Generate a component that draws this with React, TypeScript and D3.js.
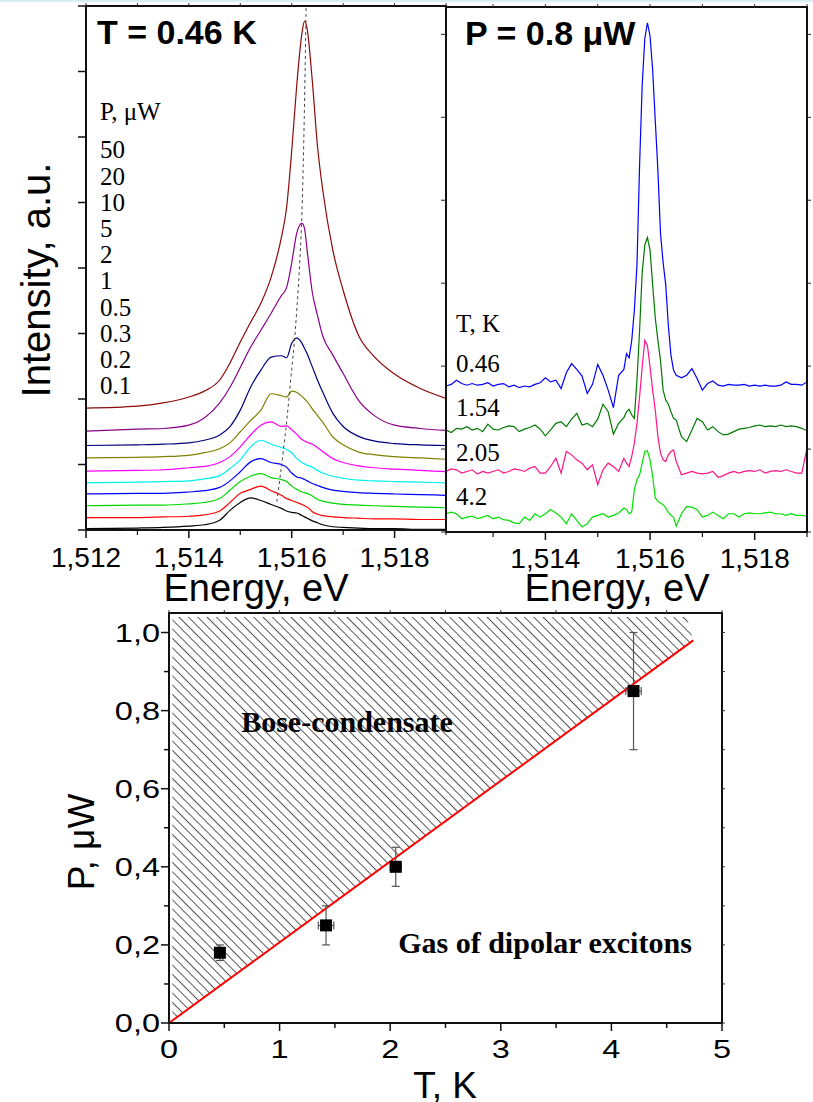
import * as d3 from "d3";

// ---------- top-left: spectra at T = 0.46 K, several pump powers ----------
const energyL = [
  1.512, 1.513, 1.5135, 1.514, 1.5143, 1.5146, 1.5148, 1.515, 1.5152, 1.5154,
  1.5156, 1.5158, 1.5159, 1.516, 1.5161, 1.5162, 1.51625, 1.5163, 1.5164,
  1.5165, 1.5166, 1.5168, 1.517, 1.5173, 1.5176, 1.518, 1.5185, 1.519,
];
const powerLabels = ["50", "20", "10", "5", "2", "1", "0.5", "0.3", "0.2", "0.1"];
const powerColors = [
  "#8b0a0a", "#8a008a", "#00007f", "#808000", "#ff00ff",
  "#00f0f0", "#0000ff", "#00d800", "#ff0000", "#000000",
];
const p50 = [1.86, 1.89, 1.94, 2.03, 2.12, 2.29, 2.55, 2.87, 3.17, 3.46, 3.86, 4.47, 4.92, 5.79, 6.81, 7.59, 7.77, 7.65, 6.86, 5.87, 5.21, 4.27, 3.66, 2.97, 2.65, 2.38, 2.16, 2.01];
const p20 = [1.51, 1.54, 1.55, 1.6, 1.71, 1.94, 2.18, 2.48, 2.79, 3.05, 3.31, 3.58, 3.7, 4.08, 4.54, 4.68, 4.6, 4.27, 3.63, 3.28, 2.97, 2.67, 2.39, 1.98, 1.75, 1.6, 1.55, 1.52];
const p10 = [1.29, 1.3, 1.31, 1.33, 1.37, 1.45, 1.58, 1.83, 2.18, 2.44, 2.64, 2.66, 2.63, 2.85, 2.93, 2.85, 2.77, 2.69, 2.49, 2.29, 2.11, 1.78, 1.58, 1.43, 1.36, 1.32, 1.3, 1.29];
const p5 = [1.1, 1.11, 1.12, 1.14, 1.18, 1.24, 1.33, 1.5, 1.67, 1.83, 2.08, 2.05, 2.03, 2.12, 2.1, 2.04, 2.0, 1.96, 1.85, 1.75, 1.65, 1.42, 1.3, 1.19, 1.15, 1.12, 1.1, 1.08];
const p2 = [0.9, 0.91, 0.92, 0.95, 0.97, 1.03, 1.12, 1.27, 1.45, 1.6, 1.65, 1.58, 1.59, 1.53, 1.46, 1.38, 1.36, 1.34, 1.31, 1.26, 1.2, 1.09, 1.03, 0.98, 0.95, 0.93, 0.91, 0.89];
const p1 = [0.72, 0.73, 0.74, 0.75, 0.78, 0.83, 0.94, 1.07, 1.27, 1.37, 1.31, 1.26, 1.23, 1.18, 1.09, 1.03, 1.01, 0.99, 0.96, 0.91, 0.87, 0.82, 0.79, 0.76, 0.75, 0.74, 0.73, 0.72];
const p05 = [0.55, 0.56, 0.56, 0.58, 0.6, 0.65, 0.75, 0.89, 1.04, 1.09, 1.03, 1.0, 0.96, 0.87, 0.81, 0.79, 0.77, 0.75, 0.71, 0.68, 0.65, 0.61, 0.59, 0.57, 0.56, 0.55, 0.54, 0.53];
const p03 = [0.37, 0.38, 0.38, 0.4, 0.42, 0.48, 0.61, 0.74, 0.82, 0.86, 0.8, 0.77, 0.74, 0.67, 0.62, 0.58, 0.57, 0.56, 0.52, 0.47, 0.44, 0.41, 0.39, 0.38, 0.37, 0.36, 0.35, 0.34];
const p02 = [0.19, 0.19, 0.2, 0.21, 0.23, 0.29, 0.42, 0.56, 0.62, 0.67, 0.6, 0.53, 0.48, 0.45, 0.42, 0.39, 0.37, 0.35, 0.28, 0.24, 0.22, 0.2, 0.19, 0.18, 0.17, 0.17, 0.16, 0.16];
const p01 = [0.02, 0.03, 0.04, 0.06, 0.08, 0.15, 0.3, 0.42, 0.49, 0.45, 0.39, 0.33, 0.29, 0.27, 0.26, 0.22, 0.2, 0.18, 0.14, 0.11, 0.08, 0.05, 0.04, 0.03, 0.02, 0.02, 0.01, 0.01];
const spectraL = [p50, p20, p10, p5, p2, p1, p05, p03, p02, p01];

// dashed guide through the condensate line
const guideE = [1.51571, 1.51579, 1.51589, 1.51598, 1.51607, 1.51619, 1.51628];
const guideI = [0.43, 0.91, 1.57, 2.29, 3.05, 4.65, 7.99];

// ---------- top-right: spectra at P = 0.8 uW, several temperatures ----------
const energyR = [
  1.5121, 1.5122, 1.5123, 1.5124, 1.5125, 1.5126, 1.5127, 1.5128, 1.5129, 1.513,
  1.5131, 1.5132, 1.5133, 1.5134, 1.5135, 1.5136, 1.5137, 1.5138, 1.5139, 1.514,
  1.5141, 1.5142, 1.5143, 1.5144, 1.5145, 1.5146, 1.5147, 1.5148, 1.5149, 1.515,
  1.5151, 1.5152, 1.5153, 1.5154, 1.5155,
  1.51555, 1.5156, 1.51565, 1.5157, 1.51575, 1.5158, 1.51585, 1.5159, 1.51595, 1.516,
  1.51605, 1.5161, 1.51615, 1.5162, 1.51625, 1.5163, 1.51635, 1.5164, 1.51645,
  1.5165, 1.5166, 1.5167, 1.5168, 1.5169, 1.517, 1.5171, 1.5172, 1.5173, 1.5174,
  1.5175, 1.5176, 1.5177, 1.5178, 1.5179, 1.518, 1.5181, 1.5182, 1.5183, 1.5184,
  1.5185, 1.5186, 1.5187, 1.5188, 1.5189, 1.519,
];
const tempLabels = ["0.46", "1.54", "2.05", "4.2"];
const tempColors = ["#0000ff", "#007800", "#ff1487", "#00e000"];
const t046 = [
  1.76, 1.78, 1.83, 1.79, 1.77, 1.79, 1.77, 1.78, 1.8, 1.76, 1.78, 1.79, 1.75, 1.77, 1.74, 1.76, 1.75, 1.78, 1.8, 1.86,
  1.81, 1.83, 1.73, 1.92, 2.03, 1.96, 1.88, 1.67, 1.78, 2.02, 1.89, 1.71, 1.5, 1.89, 1.96,
  2.15, 2.1, 2.31, 2.67, 3.22, 4.42, 5.39, 5.95, 6.14, 5.98, 5.57, 4.96, 4.36, 3.6, 3.25, 2.98, 2.49, 2.13, 1.95,
  1.89, 1.86, 1.89, 1.97, 1.85, 1.71, 1.79, 1.82, 1.77, 1.76, 1.78, 1.77, 1.77, 1.78, 1.76, 1.77, 1.76, 1.77, 1.76, 1.76,
  1.77, 1.81, 1.78, 1.78, 1.77, 1.81,
];
const t154 = [
  1.23, 1.2, 1.25, 1.24, 1.27, 1.23, 1.25, 1.21, 1.3, 1.24, 1.23, 1.26, 1.28, 1.27, 1.21, 1.24, 1.26, 1.29, 1.24, 1.16,
  1.23, 1.31, 1.33, 1.27, 1.36, 1.43, 1.29, 1.31, 1.27, 1.36, 1.54, 1.45, 1.18, 1.31, 1.38,
  1.45, 1.48, 1.41, 1.37, 1.83, 2.43, 3.13, 3.46, 3.55, 3.4, 2.98, 2.58, 2.31, 2.07, 1.71, 1.59, 1.54, 1.45, 1.37,
  1.35, 1.15, 1.09, 1.23, 1.37, 1.33, 1.23, 1.27, 1.21, 1.17, 1.18, 1.21, 1.24, 1.25, 1.26, 1.28, 1.29, 1.27, 1.28, 1.27,
  1.29, 1.27, 1.28, 1.27, 1.25, 1.22,
];
const t205 = [
  0.73, 0.76, 0.75, 0.71, 0.73, 0.75, 0.7, 0.73, 0.71, 0.73, 0.75, 0.71, 0.73, 0.76, 0.75, 0.73, 0.77, 0.79, 0.71, 0.71,
  0.79, 0.89, 0.71, 0.97, 0.93, 0.87, 0.83, 0.75, 0.81, 0.57, 0.75, 0.83, 0.79, 0.73, 0.89,
  0.83, 0.79, 0.91, 1.07, 1.31, 1.63, 1.99, 2.31, 2.25, 1.99, 1.71, 1.47, 1.15, 0.95, 0.87, 0.85, 0.93, 0.97, 0.99,
  0.85, 0.69, 0.71, 0.73, 0.71, 0.7, 0.71, 0.73, 0.66, 0.68, 0.71, 0.73, 0.71, 0.73, 0.74, 0.73, 0.75, 0.71, 0.73, 0.74,
  0.73, 0.75, 0.73, 0.71, 0.71, 1.01,
];
const t42 = [
  0.22, 0.24, 0.22, 0.16, 0.18, 0.19, 0.16, 0.18, 0.2, 0.16, 0.18, 0.15, 0.14, 0.11, 0.1, 0.18, 0.14, 0.22, 0.18, 0.22,
  0.27, 0.23, 0.18, 0.1, 0.22, 0.14, 0.06, 0.1, 0.18, 0.2, 0.22, 0.18, 0.2, 0.23, 0.29,
  0.27, 0.22, 0.24, 0.51, 0.63, 0.69, 0.83, 0.97, 0.98, 0.87, 0.67, 0.41, 0.37, 0.35, 0.33, 0.29, 0.24, 0.2, 0.18,
  0.07, 0.22, 0.31, 0.3, 0.27, 0.18, 0.2, 0.24, 0.2, 0.16, 0.22, 0.22, 0.18, 0.22, 0.23, 0.22, 0.22, 0.23, 0.24, 0.22,
  0.22, 0.2, 0.22, 0.2, 0.2, 0.19,
];
const spectraR = [t046, t154, t205, t42];

const tickEnergyL = [1.512, 1.514, 1.516, 1.518];
const tickEnergyR = [1.514, 1.516, 1.518];
const minorEnergy = [1.513, 1.515, 1.517, 1.519];

// ---------- bottom: phase diagram ----------
const tempK = [0.46, 1.42, 2.05, 4.2];
const powerUW = [0.18, 0.25, 0.4, 0.85];
const powerErr = [0.02, 0.05, 0.05, 0.15];
const tempErr = [0.03, 0.07, 0.05, 0.07];
const borderT = [0, 4.74];
const borderP = [0, 0.98];
const hatchT = [0.03, 4.68, 4.74, 0.03];
const hatchP = [1.04, 1.04, 0.98, 0.006];

const sans = "'Liberation Sans', Arial, sans-serif";
const serif = "'Liberation Serif', 'Times New Roman', serif";
const comma = d3.formatLocale({ decimal: ",", thousands: " ", grouping: [3], currency: ["", ""] });
const fmtE = comma.format(".3f");
const fmtP = comma.format(".1f");

export default function App() {
  const xL = d3.scaleLinear().domain([1.512, 1.519]).range([86, 446]);
  const yL = d3.scaleLinear().domain([0, 8]).range([530, 6]);
  const xR = d3.scaleLinear().domain([1.5121, 1.519]).range([446, 807]);
  const yR = d3.scaleLinear().domain([0, 6.33]).range([532, 7]);
  const xB = d3.scaleLinear().domain([0, 5]).range([169, 722]);
  const yB = d3.scaleLinear().domain([0, 1.05]).range([1023, 613]);

  const lineL = d3.line<number>().x((_, i) => xL(energyL[i])).y((d) => yL(d)).curve(d3.curveMonotoneX);
  const lineR = d3.line<number>().x((_, i) => xR(energyR[i])).y((d) => yR(d));
  const guide = d3.line<number>().x((_, i) => xL(guideE[i])).y((d) => yL(d)).curve(d3.curveCatmullRom);
  const hatch = d3.line<number>().x((_, i) => xB(hatchT[i])).y((d) => yB(d))(hatchP) + "Z";
  const border = d3.line<number>().x((_, i) => xB(borderT[i])).y((d) => yB(d))(borderP);

  const [l0, l1] = xL.range();
  const [r0, r1] = xR.range();
  const [b0, b1] = xB.range();

  return (
    <svg width={813} height={1102} style={{ position: "absolute", left: 0, top: 0, background: "#fff" }}>
      <defs>
        <clipPath id="clipL"><rect x={l0} y={yL(8)} width={l1 - l0} height={yL(0) - yL(8)} /></clipPath>
        <clipPath id="clipR"><rect x={r0} y={yR(6.33)} width={r1 - r0} height={yR(0) - yR(6.33)} /></clipPath>
        <pattern id="hatch" patternUnits="userSpaceOnUse" width={6.6} height={10} patternTransform="rotate(-45)">
          <line x1={0} y1={0} x2={0} y2={10} stroke="#000" strokeWidth={1.3} />
        </pattern>
      </defs>
      <rect x={0} y={0} width={813} height={2} fill="#d8eef2" />

      {/* ---------- top-left panel ---------- */}
      <g clipPath="url(#clipL)" fill="none">
        {spectraL.map((s, i) => (
          <path key={i} d={lineL(s) ?? ""} stroke={powerColors[i]} strokeWidth={1.2} />
        ))}
        <path d={guide(guideI) ?? ""} stroke="#444" strokeWidth={1} strokeDasharray="3,3" />
      </g>
      <rect x={l0} y={yL(8)} width={l1 - l0} height={yL(0) - yL(8)} fill="none" stroke="#111" strokeWidth={2} />
      {tickEnergyL.map((t) => (
        <g key={t}>
          <line x1={xL(t)} x2={xL(t)} y1={yL(0)} y2={yL(0) + 8} stroke="#111" strokeWidth={1.5} />
          <text x={xL(t)} y={567} textAnchor="middle" fontFamily={sans} fontSize={28}>{fmtE(t)}</text>
        </g>
      ))}
      {minorEnergy.map((t) => (
        <line key={t} x1={xL(t)} x2={xL(t)} y1={yL(0)} y2={yL(0) + 5} stroke="#111" strokeWidth={1.2} />
      ))}
      {[...tickEnergyL, ...minorEnergy].map((t) => (
        <line key={"t" + t} x1={xL(t)} x2={xL(t)} y1={yL(8)} y2={yL(8) - 3} stroke="#333" strokeWidth={1} />
      ))}
      {yL.ticks(8).map((v) => (
        <line key={v} x1={l0 - 8} x2={l0} y1={yL(v)} y2={yL(v)} stroke="#111" strokeWidth={1.5} />
      ))}
      <text x={97} y={44} fontFamily={sans} fontSize={34} fontWeight="bold">T = 0.46 K</text>
      <text x={100} y={120} fontFamily={serif} fontSize={25}>P, μW</text>
      {powerLabels.map((p, i) => (
        <text key={p} x={100} y={158.3 + 26.2 * i} fontFamily={serif} fontSize={25}>{p}</text>
      ))}
      <text transform="translate(50,280) rotate(-90)" textAnchor="middle" fontFamily={sans} fontSize={40}>
        Intensity, a.u.
      </text>
      <text x={256} y={601} textAnchor="middle" fontFamily={sans} fontSize={38}>Energy, eV</text>

      {/* ---------- top-right panel ---------- */}
      <g clipPath="url(#clipR)" fill="none">
        {spectraR.map((s, i) => (
          <path key={i} d={lineR(s) ?? ""} stroke={tempColors[i]} strokeWidth={1.2} />
        ))}
      </g>
      <rect x={r0} y={yR(6.33)} width={r1 - r0} height={yR(0) - yR(6.33)} fill="none" stroke="#111" strokeWidth={2} />
      {tickEnergyR.map((t) => (
        <g key={t}>
          <line x1={xR(t)} x2={xR(t)} y1={yR(0)} y2={yR(0) + 8} stroke="#111" strokeWidth={1.5} />
          <text x={xR(t)} y={568} textAnchor="middle" fontFamily={sans} fontSize={28}>{fmtE(t)}</text>
        </g>
      ))}
      {minorEnergy.map((t) => (
        <line key={t} x1={xR(t)} x2={xR(t)} y1={yR(0)} y2={yR(0) + 5} stroke="#111" strokeWidth={1.2} />
      ))}
      {[...tickEnergyR, ...minorEnergy].map((t) => (
        <line key={"t" + t} x1={xR(t)} x2={xR(t)} y1={yR(6.33)} y2={yR(6.33) - 3} stroke="#333" strokeWidth={1} />
      ))}
      {yR.ticks(6).map((v) => (
        <g key={v}>
          <line x1={r0 - 5} x2={r0} y1={yR(v)} y2={yR(v)} stroke="#222" strokeWidth={1} />
          <line x1={r1} x2={r1 + 4} y1={yR(v)} y2={yR(v)} stroke="#222" strokeWidth={1} />
        </g>
      ))}
      <text x={465} y={45} fontFamily={sans} fontSize={34} fontWeight="bold">P = 0.8 μW</text>
      <text x={456} y={331.7} fontFamily={serif} fontSize={25}>T, K</text>
      {tempLabels.map((t, i) => (
        <text key={t} x={456} y={371.7 + 44.4 * i} fontFamily={serif} fontSize={25}>{t}</text>
      ))}
      <text x={617} y={601} textAnchor="middle" fontFamily={sans} fontSize={38}>Energy, eV</text>

      {/* ---------- bottom panel ---------- */}
      <path d={hatch} fill="url(#hatch)" stroke="none" />
      <path d={border ?? ""} stroke="#ff0000" strokeWidth={2} fill="none" />
      {tempK.map((t, i) => (
        <g key={t} stroke="#555" strokeWidth={1.2}>
          <line x1={xB(t)} x2={xB(t)} y1={yB(powerUW[i] - powerErr[i])} y2={yB(powerUW[i] + powerErr[i])} />
          <line x1={xB(t) - 4} x2={xB(t) + 4} y1={yB(powerUW[i] - powerErr[i])} y2={yB(powerUW[i] - powerErr[i])} />
          <line x1={xB(t) - 4} x2={xB(t) + 4} y1={yB(powerUW[i] + powerErr[i])} y2={yB(powerUW[i] + powerErr[i])} />
          <line x1={xB(t - tempErr[i])} x2={xB(t + tempErr[i])} y1={yB(powerUW[i])} y2={yB(powerUW[i])} />
          <line x1={xB(t - tempErr[i])} x2={xB(t - tempErr[i])} y1={yB(powerUW[i]) - 4} y2={yB(powerUW[i]) + 4} />
          <line x1={xB(t + tempErr[i])} x2={xB(t + tempErr[i])} y1={yB(powerUW[i]) - 4} y2={yB(powerUW[i]) + 4} />
          <rect x={xB(t) - 6} y={yB(powerUW[i]) - 6} width={12} height={12} fill="#000" stroke="none" />
        </g>
      ))}
      <rect x={b0} y={yB(1.05)} width={b1 - b0} height={yB(0) - yB(1.05)} fill="none" stroke="#111" strokeWidth={2} />
      {xB.ticks(10).map((v) => {
        const major = Number.isInteger(v);
        return (
          <g key={v}>
            <line x1={xB(v)} x2={xB(v)} y1={yB(0)} y2={yB(0) + (major ? 8 : 5)} stroke="#111" strokeWidth={1.5} />
            <line x1={xB(v)} x2={xB(v)} y1={yB(1.05)} y2={yB(1.05) - 3} stroke="#333" strokeWidth={1} />
            {major && (
              <text transform={`translate(${xB(v)},1058) scale(1.3,1)`} textAnchor="middle" fontFamily={sans} fontSize={25}>
                {v}
              </text>
            )}
          </g>
        );
      })}
      {yB.ticks(10).map((v, i) => {
        const major = i % 2 === 0;
        return (
          <g key={v}>
            <line x1={b0 - (major ? 8 : 5)} x2={b0} y1={yB(v)} y2={yB(v)} stroke="#111" strokeWidth={1.5} />
            <line x1={b1} x2={b1 + 3} y1={yB(v)} y2={yB(v)} stroke="#333" strokeWidth={1} />
            {major && (
              <text transform={`translate(160,${yB(v) + 9}) scale(1.3,1)`} textAnchor="end" fontFamily={sans} fontSize={25}>
                {fmtP(v)}
              </text>
            )}
          </g>
        );
      })}
      <text x={347} y={732} textAnchor="middle" fontFamily={serif} fontSize={30} fontWeight="bold">
        Bose-condensate
      </text>
      <text x={545} y={953} textAnchor="middle" fontFamily={serif} fontSize={30} fontWeight="bold">
        Gas of dipolar excitons
      </text>
      <text x={445} y={1098} textAnchor="middle" fontFamily={sans} fontSize={37}>T, K</text>
      <text transform="translate(94,842) rotate(-90)" textAnchor="middle" fontFamily={sans} fontSize={37}>
        P, μW
      </text>
    </svg>
  );
}
